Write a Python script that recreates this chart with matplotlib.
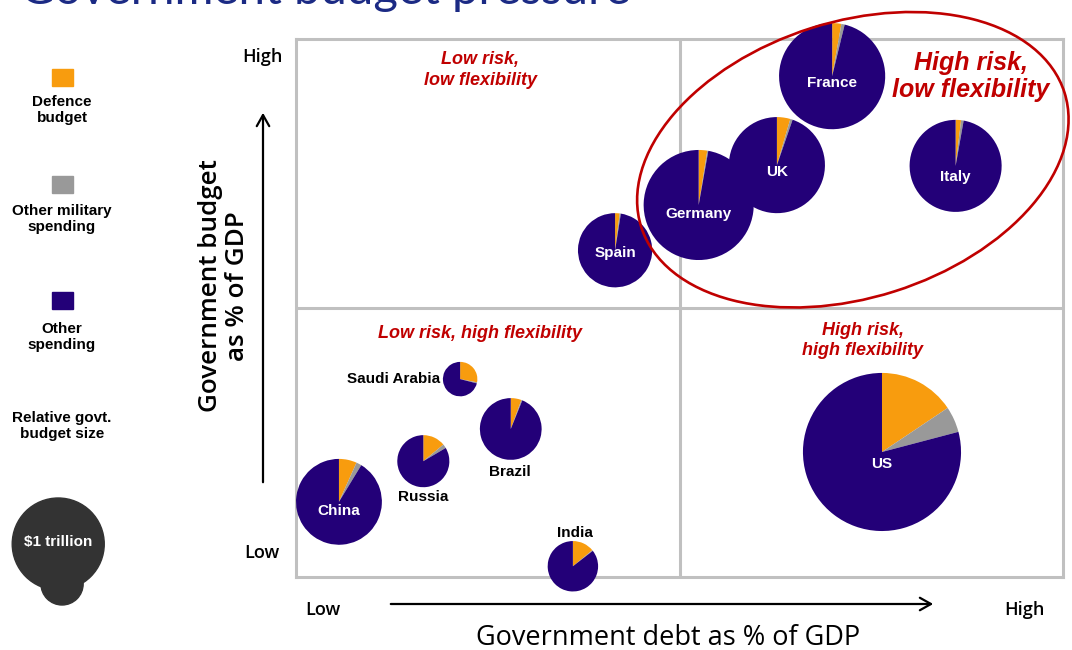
import numpy as np
import matplotlib.pyplot as plt
from matplotlib.patches import Ellipse, Circle, Rectangle

# position scores inside the quadrant box (x: debt 0-100, y: budget, same unit size)
countries = ["France", "UK", "Germany", "Italy", "Spain", "US",
             "China", "Russia", "Brazil", "Saudi Arabia", "India"]
debt_score = [69.9, 62.7, 52.5, 86.0, 41.6, 76.4, 5.6, 16.6, 28.0, 21.4, 36.1]
budget_score = [65.3, 53.7, 48.5, 53.6, 42.6, 16.3, 9.8, 15.1, 19.3, 25.8, 1.4]
# government budget, $bn (bubble area)
budget_bn = [1330, 1090, 1430, 1000, 650, 2950, 870, 320, 450, 140, 300]
# split of the budget, %
defence_pct = [2.8, 4.5, 2.5, 1.9, 2.0, 15.6, 6.7, 14.0, 5.6, 28.0, 14.0]
other_mil_pct = [1.0, 0.8, 0.3, 0.9, 0.5, 5.3, 2.0, 2.5, 0.5, 1.0, 0.5]

# label placement relative to the pie centre
label_dx = [0, 0, 0, 0, 0, 0, 0, 0, -0.1, -2.6, 0.3]
label_dy = [-0.9, -0.9, -1.2, -1.4, -0.4, -1.6, -1.2, -4.7, -5.6, 0, 4.3]
label_inside = [True, True, True, True, True, True, True, False, False, False, False]

pie_colors = ["#F89C0E", "#999999", "#230078"]
legend_items = ["Defence\nbudget", "Other military\nspending", "Other\nspending"]
red = "#C00000"
grey = "#C0C0C0"
arial = "Liberation Sans"

W, H = 1072, 650
fig = plt.figure(figsize=(W / 100, H / 100), dpi=100)

# overlay in pixel units for the annotations around the box
ov = fig.add_axes([0, 0, 1, 1])
ov.set_xlim(0, W)
ov.set_ylim(H, 0)
ov.axis("off")

box_l, box_r, box_t, box_b = 296, 1063, 39, 577
ax = fig.add_axes([box_l / W, 1 - box_b / H, (box_r - box_l) / W, (box_b - box_t) / H])
ax.set_facecolor("none")
ymax = 100 * (box_b - box_t) / (box_r - box_l)

unit_r = 6.0  # radius of a $1 trillion bubble


def bubble_radius(bn):
    return unit_r * np.sqrt(bn / 1000)


for i, name in enumerate(countries):
    x, y = debt_score[i], budget_score[i]
    r = bubble_radius(budget_bn[i])
    d, m = defence_pct[i], other_mil_pct[i]
    wedges, _ = ax.pie([d, m, 100 - d - m], colors=pie_colors, center=(x, y), radius=r,
                       startangle=90, counterclock=False, frame=True,
                       wedgeprops=dict(linewidth=0))
    for w in wedges:
        w.set_clip_on(False)
        w.set_zorder(3)
    if label_inside[i]:
        ax.text(x + label_dx[i], y + label_dy[i], name, color="white", fontsize=11,
                fontweight="bold", family=arial, ha="center", va="center", zorder=5)
    else:
        ax.text(x + label_dx[i], y + label_dy[i], name, color="black", fontsize=11,
                fontweight="bold", family=arial,
                ha="right" if label_dx[i] < -1 else "center", va="center", zorder=5)

ax.set_xlim(0, 100)
ax.set_ylim(0, ymax)
ax.set_aspect("auto")
ax.set_xticks([])
ax.set_yticks([])
for s in ax.spines.values():
    s.set_color(grey)
    s.set_linewidth(2.2)
    s.set_zorder(2)
ax.axvline(50, color=grey, lw=2.2, zorder=2)
ax.axhline(ymax / 2, color=grey, lw=2.2, zorder=2)

# quadrant names
qfont = dict(color=red, fontweight="bold", style="italic", family=arial, ha="center", va="center")
ax.text(24.0, 66.1, "Low risk,\nlow flexibility", fontsize=13, linespacing=1.25, **qfont)
ax.text(24.0, 31.7, "Low risk, high flexibility", fontsize=13, **qfont)
ax.text(73.9, 30.8, "High risk,\nhigh flexibility", fontsize=13, linespacing=1.2, **qfont)
ax.text(88.0, 65.2, "High risk,\nlow flexibility", fontsize=18, linespacing=1.15, zorder=5, **qfont)

ax.add_patch(Ellipse((72.6, 54.4), 57.9, 36.0, angle=17.6, fill=False, ec=red, lw=1.9,
                     clip_on=False, zorder=4))

# size legend bubble
ax.add_patch(Circle((-30.5, -0.9), 2.75, color="#333333", clip_on=False, zorder=3))
ax.add_patch(Circle((-31.0, 4.3), bubble_radius(1000), color="#333333", clip_on=False, zorder=3))
ax.text(-31.0, 4.55, "$1 trillion", color="white", fontsize=11, fontweight="bold",
        family=arial, ha="center", va="center", zorder=5)

# colour legend
for yc, ty, col, lab in zip([77.5, 184, 300], [110, 219, 337], pie_colors, legend_items):
    ov.add_patch(Rectangle((52, yc - 8.5), 21, 17, color=col))
    ov.text(62, ty, lab, fontsize=11, fontweight="bold", family=arial,
            ha="center", va="center", linespacing=1.1)
ov.text(62, 426, "Relative govt.\nbudget size", fontsize=11, fontweight="bold", family=arial,
        ha="center", va="center", linespacing=1.1)

# axis arrows and labels
arrow = dict(arrowstyle="->,head_length=0.8,head_width=0.45", color="black", lw=1.6)
ov.annotate("", xy=(263, 110), xytext=(263, 485), arrowprops=arrow)
ov.annotate("", xy=(936, 604), xytext=(388, 604), arrowprops=arrow)

lvl = dict(fontsize=13, fontweight="semibold", family="Open Sans", ha="center", va="center")
ov.text(262, 57, "High", **lvl)
ov.text(262, 553, "Low", **lvl)
ov.text(323, 610, "Low", **lvl)
ov.text(1024, 610, "High", **lvl)

ov.text(668, 638, "Government debt as % of GDP", fontsize=19.5, family="Open Sans",
        ha="center", va="center")
ov.text(224, 286, "Government budget\nas % of GDP", fontsize=18.7, family="Open Sans",
        fontweight="semibold", rotation=90, ha="center", va="center", linespacing=1.1)

ov.text(20, 4, "Government budget pressure", fontsize=34, color="#1B2A84", family="Lato",
        va="baseline", ha="left")

fig.savefig("out.png", dpi=100)
